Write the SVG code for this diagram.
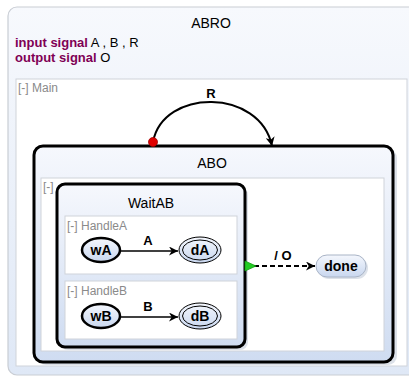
<svg xmlns="http://www.w3.org/2000/svg" width="409" height="376" viewBox="0 0 409 376">
<defs>
<linearGradient id="gOuter" x1="0" y1="0" x2="0" y2="1"><stop offset="0" stop-color="#f7f9fd"/><stop offset="1" stop-color="#dfe8f6"/></linearGradient>
<linearGradient id="gState" x1="0" y1="0" x2="0" y2="1"><stop offset="0" stop-color="#f6f8fd"/><stop offset="1" stop-color="#cfdcf1"/></linearGradient>
<linearGradient id="gNode" x1="0" y1="0" x2="0" y2="1"><stop offset="0" stop-color="#f4f7fd"/><stop offset="1" stop-color="#c9d7ef"/></linearGradient>
<marker id="arr" viewBox="0 0 10 10" refX="10" refY="5" markerWidth="9" markerHeight="9" markerUnits="userSpaceOnUse" orient="auto"><path d="M0,0 L10,5 L0,10 L3,5 Z" fill="#000"/></marker>
</defs>
<style>
text{font-family:"Liberation Sans",Arial,sans-serif}
.title{font-size:14px;fill:#000;text-anchor:middle}
.reg{fill:#fff;stroke:#cfd3da;stroke-width:1}
.regl{font-size:12px;fill:#8a8a8a}
.kw{font-weight:bold;fill:#7f0055}
.sig{font-size:13px;fill:#000}
.macro{fill:url(#gState);stroke:#000;stroke-width:3}
.node{fill:url(#gNode);stroke:#000}
.nl{font-size:14px;font-weight:bold;text-anchor:middle;fill:#000}
.el{font-size:13px;font-weight:bold;text-anchor:middle;fill:#000}
.shadow{fill:#b9c3d3;opacity:0.5}
</style>
<g id="ABRO">
<rect x="8" y="7" width="420" height="368" rx="9" fill="url(#gOuter)" stroke="#c9cdd4" stroke-width="1.2"/>
<text class="title" x="211" y="28">ABRO</text>
<text class="sig" x="15" y="47"><tspan class="kw">input signal</tspan> A , B , R</text>
<text class="sig" x="15" y="62"><tspan class="kw">output signal</tspan> O</text>
</g>
<g id="Main">
<rect class="reg" x="16" y="79" width="391" height="287"/>
<text class="regl" x="18" y="92">[-] Main</text>
</g>
<g id="ABO">
<rect class="shadow" x="37" y="149" width="360" height="216" rx="9"/>
<rect class="macro" x="34" y="146" width="359" height="216" rx="9"/>
<text class="title" x="212" y="168">ABO</text>
<rect class="reg" x="41" y="178" width="343" height="173"/>
<text class="regl" x="43" y="191">[-]</text>
</g>
<g id="WaitAB">
<rect class="shadow" x="60" y="187" width="188" height="163" rx="8"/>
<rect class="macro" x="57" y="184" width="188" height="163" rx="8"/>
<text class="title" x="151" y="208">WaitAB</text>
</g>
<g id="HandleA">
<rect class="reg" x="65" y="216" width="172" height="58" fill="#fafbfd"/>
<text class="regl" x="67" y="230">[-] HandleA</text>
</g>
<g id="HandleB">
<rect class="reg" x="65" y="281" width="172" height="58" fill="#fafbfd"/>
<text class="regl" x="67" y="295">[-] HandleB</text>
</g>
<g id="wA">
<ellipse class="node" cx="101" cy="250" rx="19" ry="12" stroke-width="2.5"/>
<text class="nl" x="101" y="255">wA</text>
</g>
<g id="dA">
<ellipse class="node" cx="200" cy="250" rx="21" ry="13" stroke-width="1"/>
<ellipse cx="200" cy="250" rx="17.5" ry="10" fill="none" stroke="#000" stroke-width="1"/>
<text class="nl" x="200" y="255">dA</text>
</g>
<g id="wB">
<ellipse class="node" cx="101" cy="316" rx="19" ry="12" stroke-width="2.5"/>
<text class="nl" x="101" y="321">wB</text>
</g>
<g id="dB">
<ellipse class="node" cx="200" cy="316" rx="21" ry="13" stroke-width="1"/>
<ellipse cx="200" cy="316" rx="17.5" ry="10" fill="none" stroke="#000" stroke-width="1"/>
<text class="nl" x="200" y="321">dB</text>
</g>
<g id="done">
<rect x="318" y="257" width="50" height="22" rx="11" class="shadow"/>
<rect x="316" y="255" width="50" height="22" rx="11" fill="url(#gNode)" stroke="#a9b4c6" stroke-width="1"/>
<text class="nl" x="341" y="271">done</text>
</g>
<g id="connectors" fill="none" stroke="#000">
<path d="M153,142 C163,88 260,88 272,146" stroke-width="2" marker-end="url(#arr)"/>
<circle cx="153" cy="142" r="4.5" fill="#e00000" stroke="#a00000" stroke-width="0.8"/>
<text class="el" x="211" y="98" stroke="none">R</text>
<line x1="120" y1="251" x2="178" y2="251" stroke-width="1.5" marker-end="url(#arr)"/>
<text class="el" x="148" y="245" stroke="none">A</text>
<line x1="120" y1="317" x2="178" y2="317" stroke-width="1.5" marker-end="url(#arr)"/>
<text class="el" x="148" y="311" stroke="none">B</text>
<line x1="254" y1="266" x2="315" y2="266" stroke-width="1.8" stroke-dasharray="5,3" marker-end="url(#arr)"/>
<path d="M245,261 L256,266 L245,271 Z" fill="#22cc22" stroke="#119911" stroke-width="0.8"/>
<text class="el" x="283" y="260" stroke="none">/ O</text>
</g>
</svg>
